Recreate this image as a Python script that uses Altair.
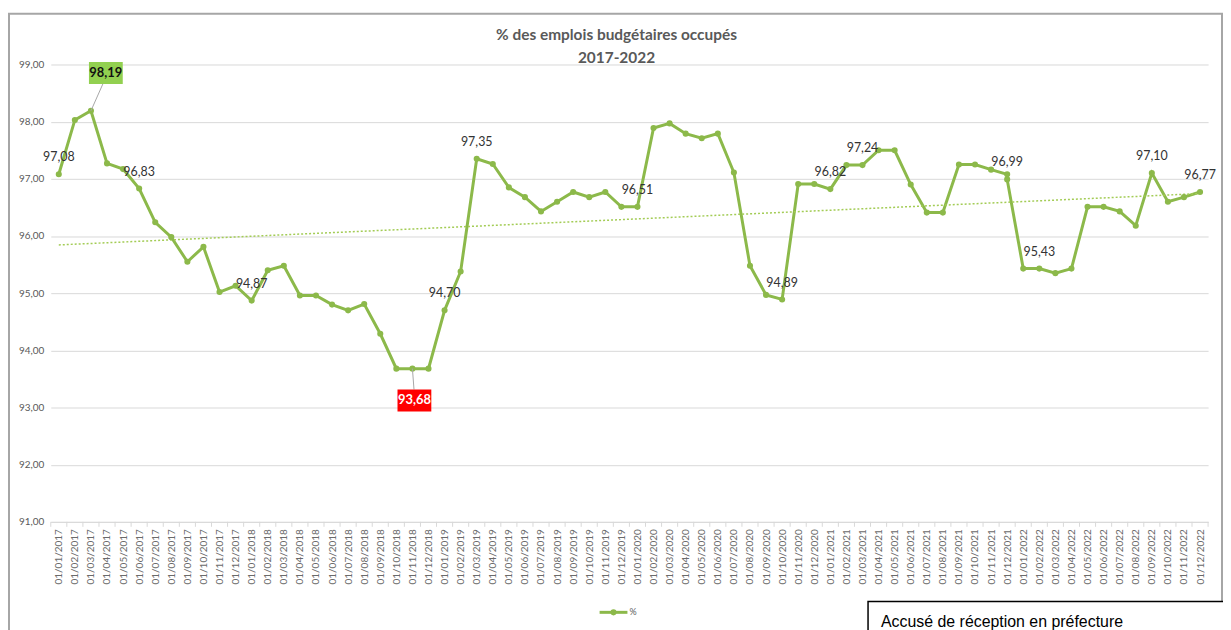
import altair as alt
import pandas as pd

# ---------------- data ----------------
CATEGORIES = [
    "01/01/2017", "01/02/2017", "01/03/2017", "01/04/2017", "01/05/2017", "01/06/2017",
    "01/07/2017", "01/08/2017", "01/09/2017", "01/10/2017", "01/11/2017", "01/12/2017",
    "01/01/2018", "01/02/2018", "01/03/2018", "01/04/2018", "01/05/2018", "01/06/2018",
    "01/07/2018", "01/08/2018", "01/09/2018", "01/10/2018", "01/11/2018", "01/12/2018",
    "01/01/2019", "01/02/2019", "01/03/2019", "01/04/2019", "01/05/2019", "01/06/2019",
    "01/07/2019", "01/08/2019", "01/09/2019", "01/10/2019", "01/11/2019", "01/12/2019",
    "01/01/2020", "01/02/2020", "01/03/2020", "01/04/2020", "01/05/2020", "01/06/2020",
    "01/07/2020", "01/08/2020", "01/09/2020", "01/10/2020", "01/11/2020", "01/12/2020",
    "01/01/2021", "01/02/2021", "01/03/2021", "01/04/2021", "01/05/2021", "01/06/2021",
    "01/07/2021", "01/08/2021", "01/09/2021", "01/10/2021", "01/11/2021", "01/12/2021",
    "01/01/2022", "01/02/2022", "01/03/2022", "01/04/2022", "01/05/2022", "01/06/2022",
    "01/07/2022", "01/08/2022", "01/09/2022", "01/10/2022", "01/11/2022", "01/12/2022",
]

# series rows (December 2021 appears twice in the source series)
ROW_DATES = CATEGORIES[:60] + ["01/12/2021"] + CATEGORIES[60:]

VALUES = [
    97.08, 98.03, 98.19, 97.27, 97.17, 96.83, 96.24, 95.98, 95.55, 95.81, 95.02, 95.13,
    94.87, 95.40, 95.48, 94.96, 94.96, 94.80, 94.70, 94.81, 94.29, 93.68, 93.68, 93.68,
    94.70, 95.38, 97.35, 97.26, 96.85, 96.68, 96.43, 96.60, 96.77, 96.68, 96.77, 96.51,
    96.51, 97.89, 97.97, 97.79, 97.71, 97.79, 97.11, 95.48, 94.97, 94.89, 96.91, 96.91,
    96.82, 97.24, 97.24, 97.50, 97.50, 96.90, 96.41, 96.41, 97.25, 97.25, 97.16, 97.08,
    96.99,
    95.43, 95.43, 95.35, 95.43, 96.51, 96.51, 96.43, 96.18, 97.10, 96.60, 96.68, 96.77,
]

LABELED_ROWS = [0, 5, 12, 24, 26, 36, 45, 48, 50, 60, 62, 69, 72]
MAX_ROW = 2
MIN_ROW = 22

Y_TICKS = [91, 92, 93, 94, 95, 96, 97, 98, 99]

TITLE_1 = "% des emplois budgétaires occupés"
TITLE_2 = "2017-2022"
LEGEND_LABEL = "%"
STAMP_TEXT = "Accusé de réception en préfecture"

# ---------------- tables ----------------
df = pd.DataFrame({
    "r": list(range(len(VALUES))),
    "i": [CATEGORIES.index(d) for d in ROW_DATES],
    "date": ROW_DATES,
    "v": VALUES,
})
df["lab"] = [f"{v:.2f}".replace(".", ",") for v in VALUES]

bounds = pd.DataFrame({"i": [k - 0.5 for k in range(len(CATEGORIES) + 1)]})
one = pd.DataFrame({"a": [0]})

GREEN = "#8cb94a"
TREND = "#a3cc55"
GRID = "#d9d9d9"
TXT = "#595959"
FONT = "Lato"

xscale = alt.Scale(domain=[-0.5, len(CATEGORIES) - 0.5], nice=False, zero=False)
yscale = alt.Scale(domain=[91, 99], nice=False, zero=False)

label_js = "[" + ",".join("'" + c + "'" for c in CATEGORIES) + "][datum.value]"

XAX = alt.Axis(
    values=list(range(len(CATEGORIES))), labelExpr=label_js, labelAngle=-90,
    labelOverlap=False, labelFlush=False, ticks=False, grid=False, domainColor=GRID,
    labelColor="#6a6a6a", labelFont=FONT, labelFontSize=10, labelPadding=7, title=None)
YAX = alt.Axis(
    values=Y_TICKS, labelExpr="replace(format(datum.value, '.2f'), '.', ',')",
    ticks=False, domain=False, gridColor=GRID, labelColor=TXT, labelFont=FONT,
    labelFontSize=10, labelPadding=7, title=None)
X = alt.X("i:Q", scale=xscale, axis=XAX)
Y = alt.Y("v:Q", scale=yscale, axis=YAX)
X2 = alt.X2("i")
Y2 = alt.Y2("v")

base = alt.Chart(df)

frame = alt.Chart(one).mark_rect(fillOpacity=0, stroke="#a6a6a6", strokeWidth=2).encode(
    x=alt.value(-42), x2=alt.value(1178), y=alt.value(-51), y2=alt.value(700))

axis_ticks = alt.Chart(bounds).mark_rule(color=GRID, strokeWidth=1).encode(
    x=X, y=alt.value(460), y2=alt.value(465))

trend = base.transform_regression("i", "v", method="linear").mark_line(
    color=TREND, strokeWidth=1.5, strokeDash=[2, 2]).encode(x=X, y=Y)

line = base.mark_line(color=GREEN, strokeWidth=3).encode(x=X, y=Y, order="r:Q")
pts = base.mark_circle(color=GREEN, size=38, opacity=1).encode(x=X, y=Y)

labels = base.transform_filter(
    alt.FieldOneOfPredicate(field="r", oneOf=LABELED_ROWS)
).mark_text(font=FONT, fontSize=12.5, color="#333333", dy=-17).encode(
    x=X, y=Y, text="lab:N")

maxf = base.transform_filter(alt.datum.r == MAX_ROW)
max_lead = maxf.mark_rule(color="#a6a6a6", strokeWidth=1, x2Offset=12, y2Offset=-27).encode(
    x=X, y=Y, x2=X2, y2=Y2)
max_box = maxf.mark_rect(color="#92d050", xOffset=-2, x2Offset=32, yOffset=-49, y2Offset=-27).encode(
    x=X, y=Y, x2=X2, y2=Y2)
max_txt = maxf.mark_text(font=FONT, fontSize=13, fontWeight="bold", color="#111111",
                         dx=15, dy=-38).encode(x=X, y=Y, text="lab:N")

minf = base.transform_filter(alt.datum.r == MIN_ROW)
min_lead = minf.mark_rule(color="#a6a6a6", strokeWidth=1, x2Offset=1.6, y2Offset=21).encode(
    x=X, y=Y, x2=X2, y2=Y2)
min_box = minf.mark_rect(color="#ff0000", xOffset=-15, x2Offset=19, yOffset=21, y2Offset=43).encode(
    x=X, y=Y, x2=X2, y2=Y2)
min_txt = minf.mark_text(font=FONT, fontSize=13, fontWeight="bold", color="#ffffff",
                         dx=2, dy=32).encode(x=X, y=Y, text="lab:N")

t1 = alt.Chart(one).mark_text(font=FONT, fontSize=15.5, fontWeight="bold", color=TXT).encode(
    x=alt.value(569), y=alt.value(-29.5), text=alt.value(TITLE_1))
t2 = alt.Chart(one).mark_text(font=FONT, fontSize=15.5, fontWeight="bold", color=TXT).encode(
    x=alt.value(569), y=alt.value(-6.5), text=alt.value(TITLE_2))

leg_line = alt.Chart(one).mark_rule(color=GREEN, strokeWidth=3).encode(
    x=alt.value(552), x2=alt.value(580), y=alt.value(551))
leg_pt = alt.Chart(one).mark_circle(color=GREEN, size=38, opacity=1).encode(
    x=alt.value(566), y=alt.value(551))
leg_txt = alt.Chart(one).mark_text(font=FONT, fontSize=9, color=TXT, align="left").encode(
    x=alt.value(582), y=alt.value(551), text=alt.value(LEGEND_LABEL))

stamp_box = alt.Chart(one).mark_rect(fill="white", stroke="black", strokeWidth=1.5).encode(
    x=alt.value(822), x2=alt.value(1200), y=alt.value(540), y2=alt.value(640))
stamp_txt = alt.Chart(one).mark_text(font="Liberation Sans", fontSize=16, color="black",
                                     align="left", baseline="alphabetic").encode(
    x=alt.value(835), y=alt.value(566), text=alt.value(STAMP_TEXT))

chart = alt.layer(
    line, frame, axis_ticks, trend, pts, labels,
    max_lead, max_box, max_txt, min_lead, min_box, min_txt,
    t1, t2, leg_line, leg_pt, leg_txt, stamp_box, stamp_txt,
).properties(
    width=1164, height=460,
    padding={"left": 43, "top": 55, "right": 15, "bottom": 115},
    autosize=alt.AutoSizeParams(type="none"),
).configure(background="white").configure_view(stroke=None)

chart.save("out.html", embed_options={"renderer": "svg", "actions": False})
